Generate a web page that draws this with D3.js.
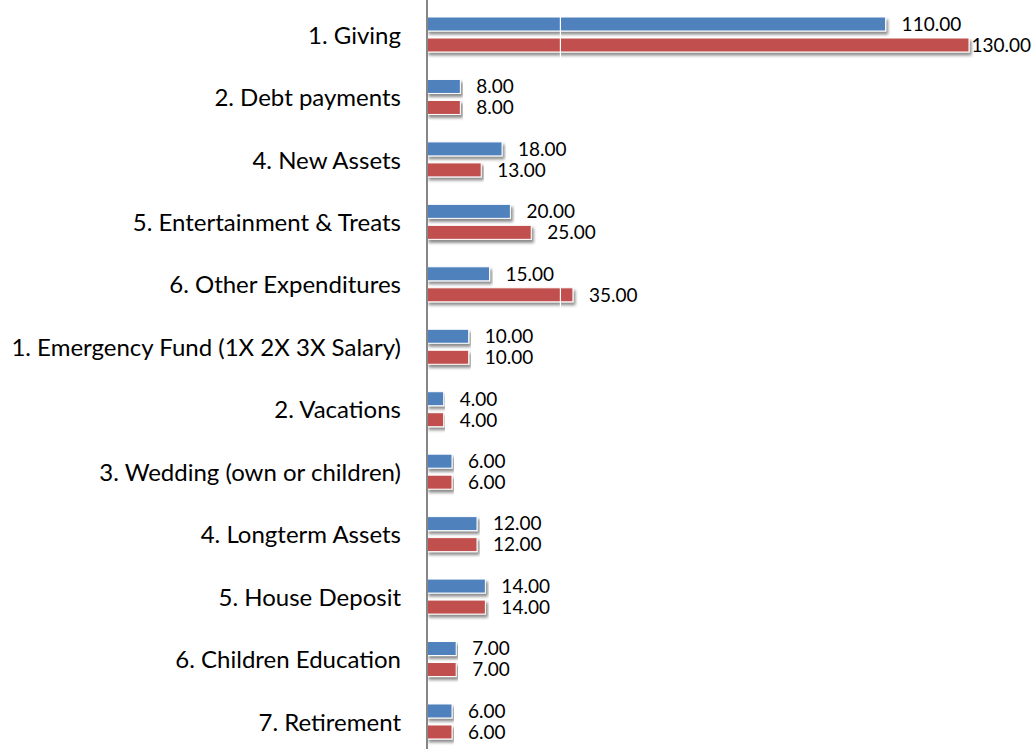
<!DOCTYPE html>
<html>
<head>
<meta charset="utf-8">
<script src="https://cdn.jsdelivr.net/npm/d3@7"></script>
<style>
  body { margin: 0; background: #fff; }
  svg { display: block; }
</style>
</head>
<body>
<div id="chart"></div>
<script>
const categories = [
  "1. Giving", "2. Debt payments", "4. New Assets", "5. Entertainment & Treats",
  "6. Other Expenditures", "1. Emergency Fund (1X 2X 3X Salary)", "2. Vacations",
  "3. Wedding (own or children)", "4. Longterm Assets", "5. House Deposit",
  "6. Children Education", "7. Retirement"
]
const blueValues = [110, 8, 18, 20, 15, 10, 4, 6, 12, 14, 7, 6]
const redValues = [130, 8, 13, 25, 35, 10, 4, 6, 12, 14, 7, 6]
const gridValues = [32]

const width = 1034
const height = 749
const seriesColors = ['#4F81BD', '#C0504D']

var svg = d3.select('#chart').append('svg')
  .attr('width', width)
  .attr('height', height)

var defs = svg.append('defs')
var shadow = defs.append('filter').attr('id', 'shadow')
  .attr('x', '-5%').attr('y', '-40%').attr('width', '110%').attr('height', '200%')
shadow.append('feDropShadow')
  .attr('dx', 2).attr('dy', 3).attr('stdDeviation', 1.6)
  .attr('flood-color', '#000').attr('flood-opacity', 0.45)

var x = d3.scaleLinear().domain([0, 130]).range([427, 969])
var y = d3.scaleBand().domain(categories).range([3.275, 752.7])
var ySub = d3.scaleBand().domain([0, 1]).range([-17.5, 17.5]).paddingInner(1 / 3)

var data = categories.map((c, i) => ({ cat: c, vals: [blueValues[i], redValues[i]] }))

var groups = svg.selectAll('g.cat')
  .data(data)
  .join('g')
  .attr('class', 'cat')
  .attr('transform', d => `translate(0,${y(d.cat) + y.bandwidth() / 2})`)

groups.selectAll('rect')
  .data(d => d.vals.map((v, k) => ({ v: v, k: k })))
  .join('rect')
  .attr('x', x(0))
  .attr('y', d => ySub(d.k))
  .attr('width', d => x(d.v) - x(0))
  .attr('height', ySub.bandwidth())
  .attr('fill', d => seriesColors[d.k])
  .attr('stroke', '#fff')
  .attr('stroke-width', 1)
  .attr('filter', 'url(#shadow)')

// white gridline sits over the bars (labels go on top of it)
svg.selectAll('line.grid')
  .data(gridValues)
  .join('line')
  .attr('class', 'grid')
  .attr('x1', d => x(d)).attr('x2', d => x(d))
  .attr('y1', 0).attr('y2', height)
  .attr('stroke', '#fff')
  .attr('stroke-width', 1.2)

var labels = svg.selectAll('g.lbl')
  .data(data)
  .join('g')
  .attr('class', 'lbl')
  .attr('transform', d => `translate(0,${y(d.cat) + y.bandwidth() / 2})`)

labels.selectAll('text.val')
  .data(d => d.vals.map((v, k) => ({ v: v, k: k })))
  .join('text')
  .attr('class', 'val')
  .attr('y', d => ySub(d.k) + ySub.bandwidth() / 2)
  .attr('dy', '0.36em')
  .attr('font-family', 'Lato, sans-serif')
  .attr('font-size', 19)
  .attr('fill', '#000')
  .text(d => d.v.toFixed(2))
  .attr('x', function (d) {
    var w = this.getComputedTextLength()
    return Math.min(x(d.v) + 16, width - 3 - w)
  })

// category axis
var yAxis = svg.append('g')
  .attr('transform', `translate(${x(0)},0)`)
  .call(d3.axisLeft(y).tickSize(0).tickPadding(26))
yAxis.select('.domain').remove()
yAxis.append('line')
  .attr('x1', 0).attr('x2', 0)
  .attr('y1', 0).attr('y2', height)
  .attr('stroke', '#868686')
  .attr('stroke-width', 2)
yAxis.selectAll('.tick text')
  .attr('font-family', 'Lato, sans-serif')
  .attr('font-size', 24)
  .attr('fill', '#000')
  .attr('dy', '0.38em')
</script>
</body>
</html>
